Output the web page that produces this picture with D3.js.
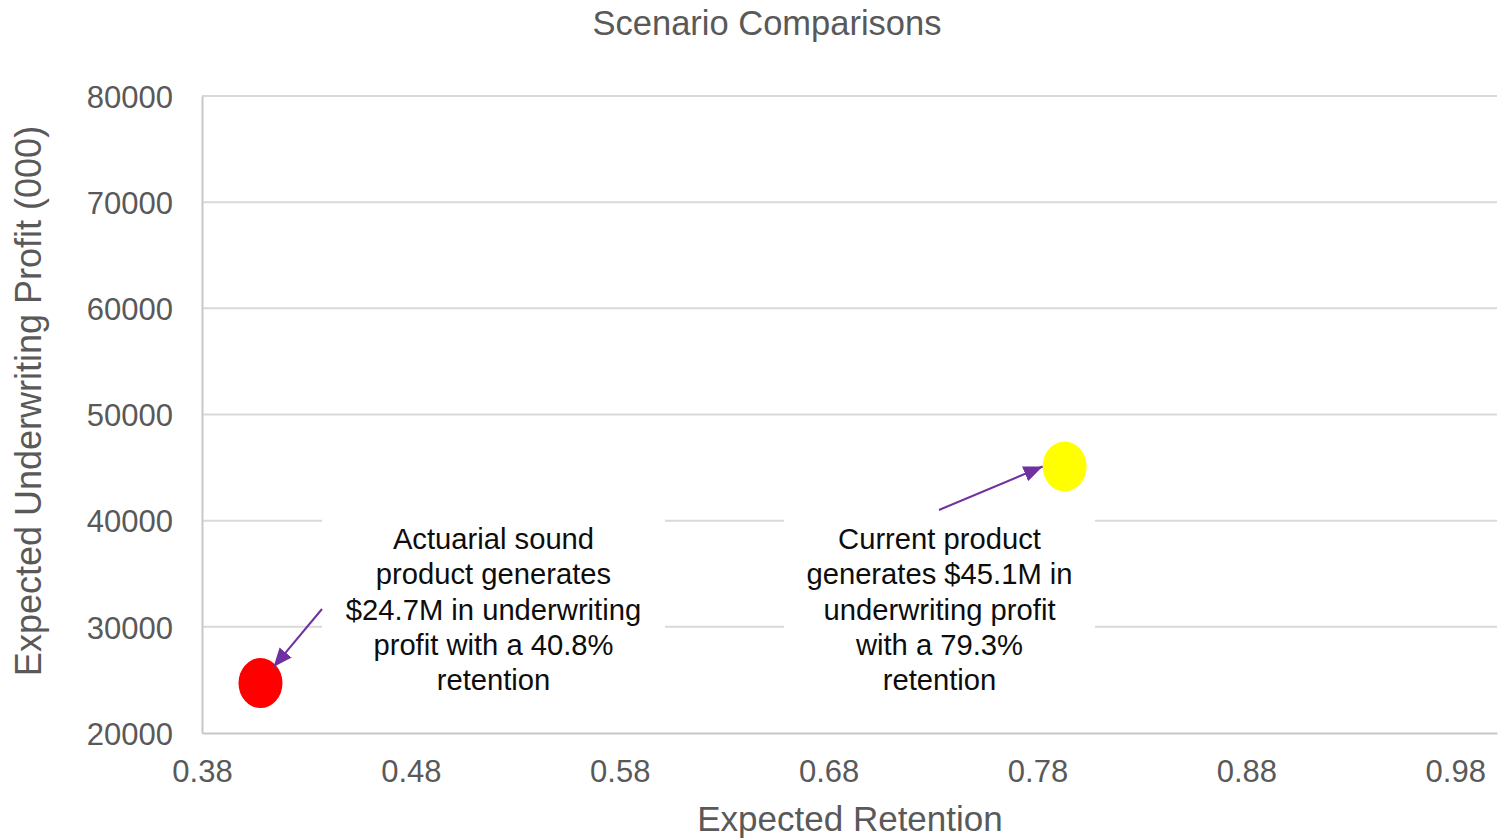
<!DOCTYPE html>
<html>
<head>
<meta charset="utf-8">
<script src="https://cdn.jsdelivr.net/npm/d3@7"></script>
<style>
  html, body { margin: 0; padding: 0; background: #fff; }
  svg { display: block; font-family: "Liberation Sans", Arial, sans-serif; }
</style>
</head>
<body>
<svg id="chart" width="1503" height="839"></svg>
<script>
// Scenario data
const scenarios = ["Actuarial sound product", "Current product"];
const retention = [0.408, 0.793];
const profit = [24700, 45100];
const pointColors = ["#ff0000", "#ffff00"];
const xTicks = [0.38, 0.48, 0.58, 0.68, 0.78, 0.88, 0.98];
const yTicks = [20000, 30000, 40000, 50000, 60000, 70000, 80000];
const notes = [
  ["Actuarial sound", "product generates", "$24.7M in underwriting", "profit with a 40.8%", "retention"],
  ["Current product", "generates $45.1M in", "underwriting profit", "with a 79.3%", "retention"]
];

const svg = d3.select("#chart");
const plot = { left: 202, right: 1497, top: 96, bottom: 733 };

const x = d3.scaleLinear().domain([0.38, 1.0]).range([plot.left, plot.right]);
const y = d3.scaleLinear().domain([20000, 80000]).range([plot.bottom, plot.top]);

// Title
svg.append("text")
  .attr("x", 767).attr("y", 35)
  .attr("text-anchor", "middle")
  .attr("font-size", 34.5).attr("fill", "#595959")
  .text("Scenario Comparisons");

// Horizontal gridlines
svg.append("g")
  .selectAll("line")
  .data(yTicks.filter(d => d > 20000))
  .join("line")
  .attr("x1", plot.left).attr("x2", plot.right)
  .attr("y1", d => y(d)).attr("y2", d => y(d))
  .attr("stroke", "#d9d9d9").attr("stroke-width", 2);

// Y axis
const yAxis = svg.append("g")
  .attr("transform", `translate(${plot.left},0)`)
  .call(d3.axisLeft(y).tickValues(yTicks).tickFormat(d3.format("d")).tickSize(0).tickPadding(29));
yAxis.select(".domain").attr("stroke", "#c8c8c8").attr("stroke-width", 2);
yAxis.selectAll("text").attr("font-size", 31).attr("fill", "#595959")
  .attr("dy", "0.36em")
  .attr("font-family", "'Liberation Sans', Arial, sans-serif");

// X axis
const xAxis = svg.append("g")
  .attr("transform", `translate(0,${plot.bottom})`)
  .call(d3.axisBottom(x).tickValues(xTicks).tickFormat(d3.format(".2f")).tickSize(0).tickPadding(27));
xAxis.select(".domain").attr("stroke", "#c8c8c8").attr("stroke-width", 2);
xAxis.selectAll("text").attr("font-size", 31).attr("fill", "#595959")
  .attr("font-family", "'Liberation Sans', Arial, sans-serif");

// Axis titles
svg.append("text")
  .attr("x", 850).attr("y", 831)
  .attr("text-anchor", "middle")
  .attr("font-size", 35).attr("fill", "#595959")
  .text("Expected Retention");

svg.append("text")
  .attr("transform", "translate(41,401) rotate(-90)")
  .attr("text-anchor", "middle")
  .attr("font-size", 36).attr("fill", "#595959")
  .text("Expected Underwriting Profit (000)");

// Annotation boxes (white background hides the gridlines behind the text)
const boxes = [
  { cx: 493.5, left: 322, right: 665, top: 508, bottom: 700 },
  { cx: 939.5, left: 784, right: 1095, top: 508, bottom: 700 }
];
boxes.forEach((b, i) => {
  svg.append("rect")
    .attr("x", b.left).attr("y", b.top)
    .attr("width", b.right - b.left).attr("height", b.bottom - b.top)
    .attr("fill", "#fff");
  const t = svg.append("text")
    .attr("text-anchor", "middle")
    .attr("font-size", 29.2).attr("fill", "#0d0d0d");
  notes[i].forEach((line, j) => {
    t.append("tspan").attr("x", b.cx).attr("y", 549 + j * 35.25).text(line);
  });
});

// Arrow marker
svg.append("defs").append("marker")
  .attr("id", "arrowhead")
  .attr("viewBox", "0 0 12 10")
  .attr("refX", 12).attr("refY", 5)
  .attr("markerWidth", 19).attr("markerHeight", 16)
  .attr("markerUnits", "userSpaceOnUse")
  .attr("orient", "auto")
  .append("path")
  .attr("d", "M0,0 L12,5 L0,10 Z")
  .attr("fill", "#7030a0");

// Points
const pts = scenarios.map((s, i) => ({ name: s, x: retention[i], y: profit[i], color: pointColors[i] }));
svg.append("g")
  .selectAll("ellipse")
  .data(pts)
  .join("ellipse")
  .attr("cx", d => x(d.x)).attr("cy", d => y(d.y))
  .attr("rx", 22).attr("ry", 25)
  .attr("fill", d => d.color);

// Arrows from each note to its point
const arrows = [
  { from: [322, 609], tipOffset: [13, -16] },
  { from: [939, 510], tipOffset: [-22, 0] }
];
arrows.forEach((a, i) => {
  const tx = x(pts[i].x) + a.tipOffset[0];
  const ty = y(pts[i].y) + a.tipOffset[1];
  svg.append("line")
    .attr("x1", a.from[0]).attr("y1", a.from[1])
    .attr("x2", tx).attr("y2", ty)
    .attr("stroke", "#7030a0").attr("stroke-width", 2)
    .attr("marker-end", "url(#arrowhead)");
});
</script>
</body>
</html>
